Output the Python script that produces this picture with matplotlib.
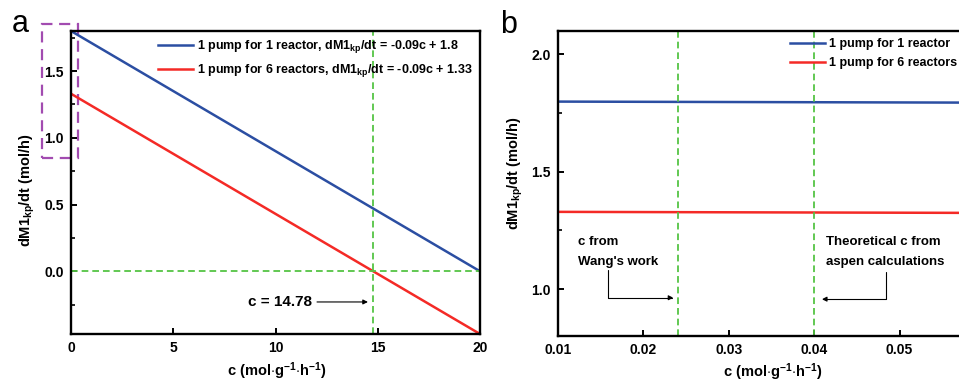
import matplotlib
matplotlib.use("Agg")
import matplotlib.pyplot as plt
from matplotlib.patches import Rectangle
from matplotlib.ticker import MultipleLocator

plt.rcParams['font.family'] = ['Liberation Sans', 'DejaVu Sans']
plt.rcParams['font.weight'] = 'bold'
plt.rcParams['mathtext.fontset'] = 'custom'
plt.rcParams['mathtext.rm'] = 'Liberation Sans:bold'
plt.rcParams['mathtext.bf'] = 'Liberation Sans:bold'
plt.rcParams['mathtext.it'] = 'Liberation Sans:bold'

# ---- data ----
c_a = [0, 20]
one_reactor_a = [1.8, 0.0]
six_reactors_a = [1.33, -0.47]
c_b = [0.01, 0.06]
one_reactor_b = [1.7991, 1.7946]
six_reactors_b = [1.3291, 1.3246]
c_cross = 14.78
c_wang = 0.024
c_aspen = 0.04
xticks_a = [0, 5, 10, 15, 20]
yticks_a = [0.0, 0.5, 1.0, 1.5]
xticks_b = [0.01, 0.02, 0.03, 0.04, 0.05]
yticks_b = [1.0, 1.5, 2.0]
labels_a = [r"1 pump for 1 reactor, dM1$_{\mathrm{kp}}$/dt = -0.09c + 1.8",
            r"1 pump for 6 reactors, dM1$_{\mathrm{kp}}$/dt = -0.09c + 1.33"]
labels_b = ["1 pump for 1 reactor", "1 pump for 6 reactors"]

BLUE = '#2b4ea2'
RED = '#f42a26'
GREEN = '#55c444'
PURPLE = '#a24bb0'
DASH = (0, (3.7, 2.2))

W, H = 959, 383
fig = plt.figure(figsize=(W / 100, H / 100), dpi=100)

def px_axes(l, r, t, b):
    return [l / W, 1 - b / H, (r - l) / W, (b - t) / H]

ax1 = fig.add_axes(px_axes(71, 480, 31, 334))
ax2 = fig.add_axes(px_axes(558, 985, 31, 336))

def style(ax):
    for s in ax.spines.values():
        s.set_linewidth(1.7)
    ax.tick_params(which='major', direction='in', length=4.3, width=1.4, labelsize=10, pad=5)
    ax.tick_params(which='minor', direction='in', length=2.8, width=1.2)
    ax.tick_params(axis='x', which='minor', bottom=False)
    for lab in ax.get_xticklabels() + ax.get_yticklabels():
        lab.set_fontweight('bold')

XLABEL = r"c (mol$\cdot$g$^{\mathbf{-1}}$$\cdot$h$^{\mathbf{-1}}$)"
YLABEL = r"dM1$_{\mathrm{kp}}$/dt (mol/h)"

# ---- panel a ----
ax1.plot(c_a, one_reactor_a, color=BLUE, lw=1.8, label=labels_a[0])
ax1.plot(c_a, six_reactors_a, color=RED, lw=1.8, label=labels_a[1])
ax1.axvline(c_cross, color=GREEN, lw=1.3, ls=DASH)
ax1.axhline(0, color=GREEN, lw=1.3, ls=DASH)
ax1.set_xlim(0, 20)
ax1.set_ylim(-0.47, 1.8)
ax1.set_xticks(xticks_a)
ax1.set_yticks(yticks_a)
ax1.set_yticklabels([f"{v:.1f}" for v in yticks_a])
ax1.yaxis.set_minor_locator(MultipleLocator(0.25))
style(ax1)
ax1.set_xlabel(XLABEL, fontsize=10.5, fontweight='bold')
ax1.set_ylabel(YLABEL, fontsize=10.5, fontweight='bold')
ax1.xaxis.set_label_coords(0.502, -0.088)
ax1.yaxis.set_label_coords(-0.083, 0.475)
ax1.legend(loc='upper right', frameon=False, handlelength=2.8,
           handletextpad=0.35, borderaxespad=0.2, labelspacing=0.55,
           prop={'weight': 'bold', 'size': 9})
ax1.text(10.2, -0.23, "c = 14.78", fontsize=11, fontweight='bold', ha='center', va='center')
ax1.annotate("", xy=(14.52, -0.23), xytext=(12.03, -0.23),
             arrowprops=dict(arrowstyle='-|>', lw=0.8, color='black', mutation_scale=7,
                             shrinkA=0, shrinkB=0))
rect = Rectangle((-1.43, 0.85), 1.79, 1.0, fill=False, edgecolor=PURPLE, lw=1.6,
                 ls=(0, (5, 3)), clip_on=False)
ax1.add_patch(rect)

# ---- panel b ----
ax2.plot(c_b, one_reactor_b, color=BLUE, lw=1.8, label=labels_b[0])
ax2.plot(c_b, six_reactors_b, color=RED, lw=1.8, label=labels_b[1])
ax2.axvline(c_wang, color=GREEN, lw=1.3, ls=DASH)
ax2.axvline(c_aspen, color=GREEN, lw=1.3, ls=DASH)
ax2.set_xlim(0.01, 0.06)
ax2.set_ylim(0.8, 2.1)
ax2.set_xticks(xticks_b)
ax2.set_xticklabels([f"{v:.2f}" for v in xticks_b])
ax2.set_yticks(yticks_b)
ax2.set_yticklabels([f"{v:.1f}" for v in yticks_b])
ax2.yaxis.set_minor_locator(MultipleLocator(0.25))
style(ax2)
ax2.set_xlabel(XLABEL, fontsize=10.5, fontweight='bold')
ax2.set_ylabel(YLABEL, fontsize=10.5, fontweight='bold')
ax2.xaxis.set_label_coords(0.502, -0.083)
ax2.yaxis.set_label_coords(-0.077, 0.533)
ax2.legend(loc='upper left', bbox_to_anchor=(0.525, 1.0), frameon=False, handlelength=2.8,
           handletextpad=0.35, borderaxespad=0.2, labelspacing=0.55,
           prop={'weight': 'bold', 'size': 9})
ax2.text(0.01231, 1.2, "c from", fontsize=9.5, fontweight='bold', ha='left', va='center')
ax2.text(0.01231, 1.115, "Wang's work", fontsize=9.5, fontweight='bold', ha='left', va='center')
ax2.text(0.04137, 1.2, "Theoretical c from", fontsize=9.5, fontweight='bold', ha='left', va='center')
ax2.text(0.04137, 1.115, "aspen calculations", fontsize=9.5, fontweight='bold', ha='left', va='center')
ax2.annotate("", xy=(0.02351, 0.963), xytext=(0.01582, 1.081),
             arrowprops=dict(arrowstyle='-|>', lw=0.8, color='black', mutation_scale=7,
                             shrinkA=0, shrinkB=0,
                             connectionstyle="angle,angleA=90,angleB=0,rad=0"))
ax2.annotate("", xy=(0.0409, 0.957), xytext=(0.0484, 1.074),
             arrowprops=dict(arrowstyle='-|>', lw=0.8, color='black', mutation_scale=7,
                             shrinkA=0, shrinkB=0,
                             connectionstyle="angle,angleA=90,angleB=0,rad=0"))

# panel letters
fig.text(12 / W, 1 - 32 / H, "a", fontsize=22, fontweight='normal', va='baseline', ha='left')
fig.text(500 / W, 1 - 33 / H, "b", fontsize=22, fontweight='normal', va='baseline', ha='left')

fig.savefig("out.png", dpi=100)
